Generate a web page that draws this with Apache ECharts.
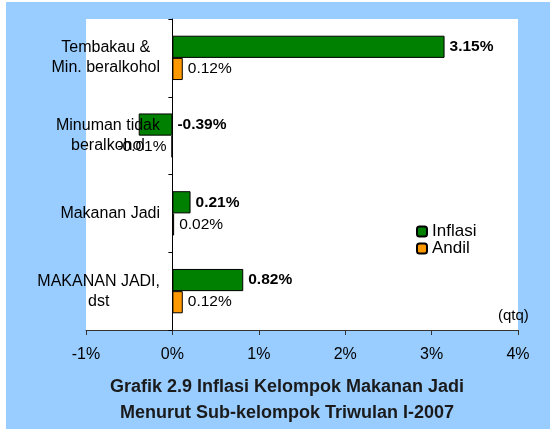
<!DOCTYPE html>
<html>
<head>
<meta charset="utf-8">
<script src="https://cdn.jsdelivr.net/npm/echarts@6/dist/echarts.min.js"></script>
<style>
  html, body { margin: 0; padding: 0; background: #fff; }
  #chart { width: 550px; height: 429px; }
</style>
</head>
<body>
<div id="chart"></div>
<script>
// data
var categories = ['Tembakau &\nMin. beralkohol', 'Minuman tidak\nberalkohol', 'Makanan Jadi', 'MAKANAN JADI,\ndst'];
var inflasi = [3.15, -0.39, 0.21, 0.82];
var andil = [0.12, -0.01, 0.02, 0.12];
var xTicks = [-1, 0, 1, 2, 3, 4];

var font = 'Liberation Sans, Arial, sans-serif';

function toData(arr) {
  return arr.map(function (v) {
    return { value: v, label: { position: v < 0 && Math.abs(v) < 0.05 ? 'left' : 'right' } };
  });
}

var myChart = echarts.init(document.getElementById('chart'));
var option = {
  backgroundColor: '#fff',
  animation: false,
  textStyle: { fontFamily: font },
  graphic: [
    { type: 'rect', z: -10, shape: { x: 6, y: 2, width: 544, height: 427 }, style: { fill: '#99CCFF' } },
    { type: 'text', left: 498, top: 308, style: { text: '(qtq)', font: '15px ' + font, fill: '#000' } }
  ],
  title: {
    text: 'Grafik 2.9 Inflasi Kelompok Makanan Jadi\nMenurut Sub-kelompok Triwulan I-2007',
    left: 282,
    top: 369,
    textAlign: 'center',
    textStyle: { fontSize: 18, fontWeight: 'bold', color: '#1a1a1a', lineHeight: 26, fontFamily: font }
  },
  legend: {
    data: ['Inflasi', 'Andil'],
    orient: 'vertical',
    left: 411,
    top: 218,
    itemWidth: 10,
    itemHeight: 10,
    itemGap: 0,
    textStyle: { fontSize: 17, color: '#000', fontFamily: font }
  },
  grid: {
    left: 86, right: 32, top: 19, bottom: 99,
    outerBoundsMode: 'none',
    containLabel: false,
    show: true, backgroundColor: '#fff', borderWidth: 0
  },
  xAxis: {
    type: 'value',
    min: xTicks[0],
    max: xTicks[xTicks.length - 1],
    interval: 1,
    splitLine: { show: false },
    axisLine: { show: true, lineStyle: { color: '#333' } },
    axisTick: { show: true, length: 5, lineStyle: { color: '#333' } },
    axisLabel: { formatter: '{value}%', fontSize: 16, color: '#000', margin: 17, fontFamily: font }
  },
  yAxis: {
    type: 'category',
    data: categories,
    inverse: true,
    z: 5,
    axisLine: { show: true, onZero: true, lineStyle: { color: '#000' } },
    axisTick: { show: true, length: 4, lineStyle: { color: '#000' } },
    axisLabel: {
      // labels stay at the grid edge while the line sits on zero
      margin: -74,
      color: '#000',
      fontFamily: font,
      formatter: function (v) {
        return v.split('\n').map(function (l) { return '{c|' + l + '}'; }).join('\n');
      },
      rich: { c: { align: 'center', fontSize: 16, lineHeight: 20, color: '#000', fontFamily: font } }
    }
  },
  series: [
    {
      name: 'Inflasi',
      type: 'bar',
      data: toData(inflasi),
      barGap: '0%',
      barCategoryGap: '43%',
      itemStyle: { color: '#008000', borderColor: '#000', borderWidth: 1 },
      label: {
        show: true, distance: 5, fontSize: 15.5, fontWeight: 'bold', color: '#000', fontFamily: font,
        formatter: function (p) { return p.value.toFixed(2) + '%'; }
      }
    },
    {
      name: 'Andil',
      type: 'bar',
      data: toData(andil),
      itemStyle: { color: '#FF9900', borderColor: '#000', borderWidth: 1 },
      label: {
        show: true, distance: 5, fontSize: 15.5, color: '#000', fontFamily: font,
        formatter: function (p) { return p.value.toFixed(2) + '%'; }
      }
    }
  ]
};
myChart.setOption(option);
</script>
</body>
</html>
